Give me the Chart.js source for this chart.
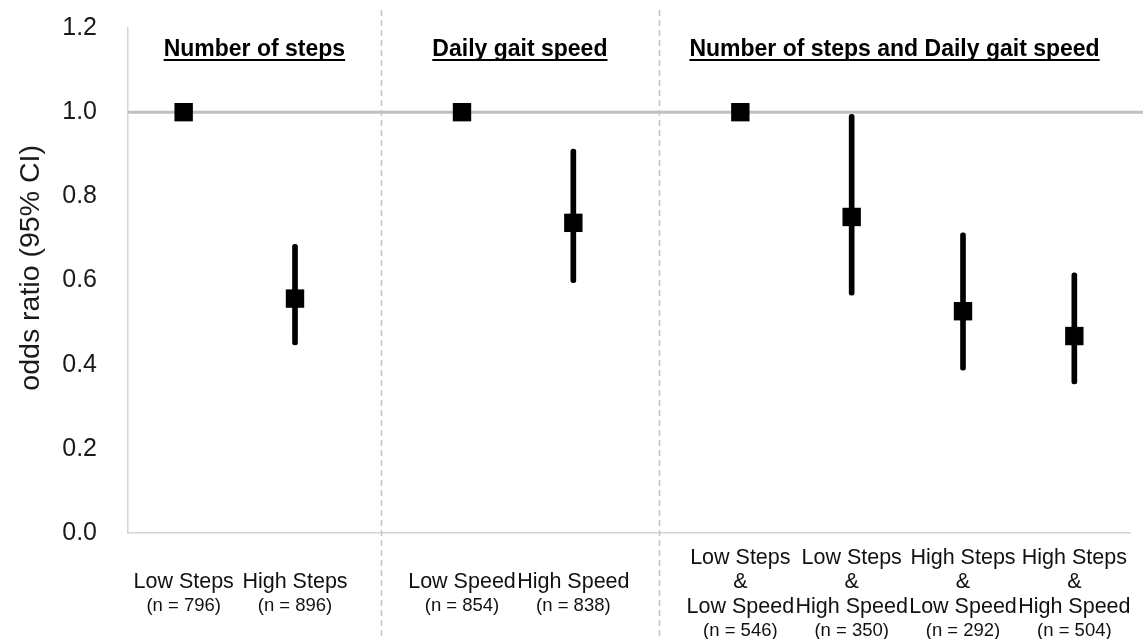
<!DOCTYPE html>
<html>
<head>
<meta charset="utf-8">
<script src="https://cdn.jsdelivr.net/npm/chart.js@4/dist/chart.umd.min.js"></script>
<style>
  html, body { margin: 0; padding: 0; background: #fff; }
  #wrap { width: 1143px; height: 639px; }
</style>
</head>
<body>
<div id="wrap"><canvas id="or-chart"></canvas></div>
<script>
"use strict";
// x positions of each group on a linear axis (gaps between groups)
const positions = [0.5, 1.5, 3, 4, 5.5, 6.5, 7.5, 8.5];
const labelLines = [
  ["Low Steps"],
  ["High Steps"],
  ["Low Speed"],
  ["High Speed"],
  ["Low Steps", "&", "Low Speed"],
  ["Low Steps", "&", "High Speed"],
  ["High Steps", "&", "Low Speed"],
  ["High Steps", "&", "High Speed"],
];
const nLabels = ["(n = 796)", "(n = 896)", "(n = 854)", "(n = 838)", "(n = 546)", "(n = 350)", "(n = 292)", "(n = 504)"];
const oddsRatio = [1.0, 0.557, 1.0, 0.737, 1.0, 0.751, 0.527, 0.468];
const ciLow = [null, 0.447, null, 0.595, null, 0.565, 0.387, 0.354];
const ciHigh = [null, 0.686, null, 0.912, null, 0.995, 0.713, 0.618];
const groupTitles = ["Number of steps", "Daily gait speed", "Number of steps and Daily gait speed"];
const groupBounds = [0, 2.27, 4.77, 9];
const refValue = 1.0;
const yTitle = "odds ratio (95% CI)";

const FONT = "'Liberation Sans', Arial, sans-serif";

const annotations = {
  id: "annotations",
  beforeDatasetsDraw(chart) {
    const { ctx, chartArea, scales } = chart;
    const x = scales.x, y = scales.y;
    ctx.save();
    // separators
    ctx.strokeStyle = "#c4c4c4";
    ctx.lineWidth = 1.5;
    ctx.setLineDash([6, 4]);
    for (let i = 1; i < groupBounds.length - 1; i++) {
      const px = Math.round(x.getPixelForValue(groupBounds[i])) + 0.5;
      ctx.beginPath();
      ctx.moveTo(px, 10);
      ctx.lineTo(px, chart.height);
      ctx.stroke();
    }
    ctx.setLineDash([]);
    // reference line
    const ry = y.getPixelForValue(refValue);
    ctx.strokeStyle = "#c0c0c0";
    ctx.lineWidth = 3;
    ctx.beginPath();
    ctx.moveTo(chartArea.left, ry);
    ctx.lineTo(chart.width, ry);
    ctx.stroke();
    ctx.restore();
  },
  afterDraw(chart) {
    const { ctx, scales } = chart;
    const x = scales.x, y = scales.y;
    ctx.save();
    ctx.fillStyle = "#000";
    ctx.textAlign = "center";
    ctx.textBaseline = "middle";
    // y axis title (sits a bit above the axis middle, as in the original)
    ctx.save();
    ctx.translate(31, y.getPixelForValue(0.63));
    ctx.rotate(-Math.PI / 2);
    ctx.fillStyle = "#1a1a1a";
    ctx.font = "28.5px " + FONT;
    ctx.fillText(yTitle, 0, 0);
    ctx.restore();
    // group titles, bold + underlined
    ctx.font = "bold 23px " + FONT;
    groupTitles.forEach((t, i) => {
      const cx = x.getPixelForValue((groupBounds[i] + groupBounds[i + 1]) / 2);
      ctx.fillText(t, cx, 50);
      const w = ctx.measureText(t).width;
      ctx.fillRect(cx - w / 2, 59, w, 2);
    });
    // category labels, vertically centred blocks
    const centreY = 594;
    positions.forEach((p, i) => {
      const cx = x.getPixelForValue(p);
      const lines = labelLines[i];
      const lh = 24.5;
      const blockH = lines.length * lh + 23;
      let ty = centreY - blockH / 2 + lh / 2;
      ctx.fillStyle = "#111";
      ctx.font = "21.5px " + FONT;
      lines.forEach((l) => {
        ctx.fillText(l, cx, ty);
        ty += lh;
      });
      ctx.font = "18.5px " + FONT;
      ctx.fillText(nLabels[i], cx, ty - lh / 2 + 11.5);
    });
    ctx.restore();
  },
};

new Chart(document.querySelector("#or-chart"), {
  type: "bar",
  data: {
    datasets: [
      {
        type: "scatter",
        label: "odds ratio",
        data: positions.map((p, i) => ({ x: p, y: oddsRatio[i] })),
        pointStyle: "rect",
        pointRadius: 13,
        pointHoverRadius: 13,
        backgroundColor: "#000",
        borderColor: "#000",
        borderWidth: 0,
        order: 1,
      },
      {
        type: "bar",
        label: "95% CI",
        data: positions
          .map((p, i) => (ciLow[i] == null ? null : { x: p, y: [ciLow[i], ciHigh[i]] }))
          .filter((d) => d),
        backgroundColor: "#000",
        borderWidth: 0,
        barThickness: 5,
        borderSkipped: false,
        borderRadius: 2.5,
        order: 2,
      },
    ],
  },
  options: {
    responsive: true,
    maintainAspectRatio: false,
    animation: false,
    layout: { padding: { top: 28, right: 8, left: 0, bottom: 0 } },
    plugins: { legend: { display: false }, tooltip: { enabled: false } },
    scales: {
      x: {
        type: "linear",
        min: 0,
        max: 9,
        offset: false,
        grid: { display: false, drawTicks: false },
        border: { display: true, color: "#d4d4d4", width: 1.5 },
        ticks: { display: false },
        afterFit(scale) {
          scale.height = 106;
        },
      },
      y: {
        min: 0,
        max: 1.2,
        grid: { display: false, drawTicks: false },
        border: { display: true, color: "#d4d4d4", width: 1.5 },
        ticks: {
          stepSize: 0.2,
          padding: 31,
          color: "#1a1a1a",
          font: { family: FONT, size: 25 },
          callback: (v) => v.toFixed(1),
        },
        title: { display: false },
        afterFit(scale) {
          scale.width = 128;
          scale.paddingTop = 0;
          scale.paddingBottom = 0;
        },
      },
    },
  },
  plugins: [annotations],
});
</script>
</body>
</html>
